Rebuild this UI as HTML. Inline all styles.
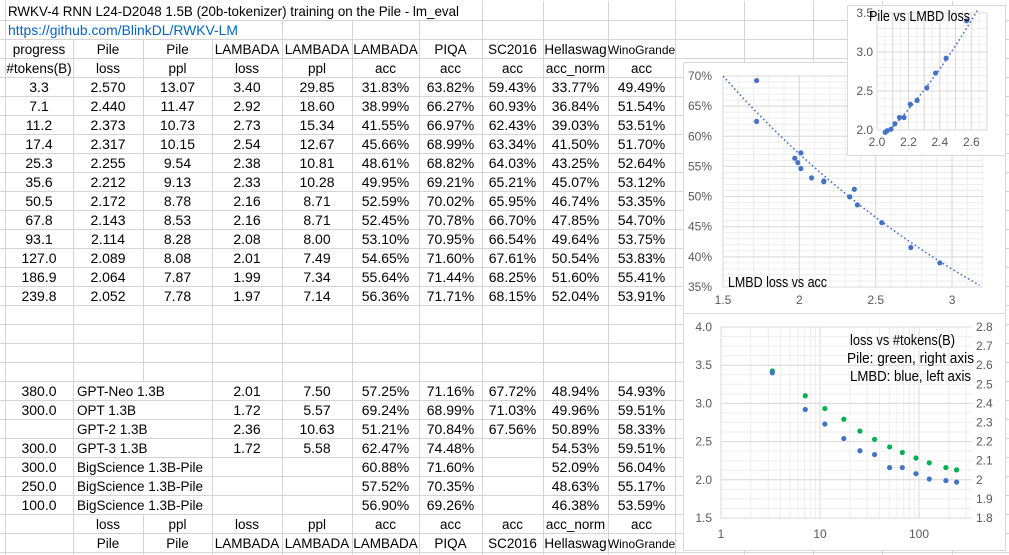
<!DOCTYPE html>
<html><head><meta charset="utf-8"><style>
html,body{margin:0;padding:0;background:#fff;}
svg{display:block;}
</style></head><body>
<svg id="s" width="1009" height="555" xmlns="http://www.w3.org/2000/svg" font-family="Liberation Sans, sans-serif"></svg>
<script>
const S=document.getElementById('s');let h='';
const cols=[5,73,143,212,282,352,419,482,543,608,675,744,813,882,952,1020];
const rowTop=k=>k==1?1:20+(k-2)*19;
const G='#d4d4d4';
for(let k=2;k<=31;k++){const y=rowTop(k)+0.5;h+=`<line x1="0" x2="1009" y1="${y}" y2="${y}" stroke="${G}"/>`;}
function hidden(k,x){
 if(k==1) return x>5&&x<482;
 if(k==2) return x>5&&x<282;
 if(k>=21&&k<=27) return x==143;
 return false;}
for(let k=1;k<=30;k++){for(const x of cols){if(hidden(k,x))continue;h+=`<line x1="${x+.5}" x2="${x+.5}" y1="${rowTop(k)}" y2="${rowTop(k+1)}" stroke="${G}"/>`;}}
function txt(x,y,s,o={}){h+=`<text x="${x}" y="${y}" font-size="${o.fs||14}" fill="${o.c||'#000'}" text-anchor="${o.a||'middle'}"${o.ls?` textLength="${o.ls}" lengthAdjust="spacingAndGlyphs"`:''}>${s}</text>`;}
txt(8,16,'RWKV-4 RNN L24-D2048 1.5B (20b-tokenizer) training on the Pile - lm_eval',{a:'start',fs:14,ls:451});
txt(8,35,'https://github.com/BlinkDL/RWKV-LM',{a:'start',fs:14,c:'#0563C1',ls:230});
const cx=i=>(cols[i]+cols[i+1])/2;
function row(k,arr,fs){arr.forEach((s,i)=>{if(s==='')return;let f=fs||14;if(s=='WinoGrande'){f=12;}txt(cx(i),rowTop(k)+15,s,{fs:f});});}
row(3,['progress','Pile','Pile','LAMBADA','LAMBADA','LAMBADA','PIQA','SC2016','Hellaswag','WinoGrande'],13.5);
row(4,['#tokens(B)','loss','ppl','loss','ppl','acc','acc','acc','acc_norm','acc'],13.5);
const D=[
['3.3','2.570','13.07','3.40','29.85','31.83%','63.82%','59.43%','33.77%','49.49%'],
['7.1','2.440','11.47','2.92','18.60','38.99%','66.27%','60.93%','36.84%','51.54%'],
['11.2','2.373','10.73','2.73','15.34','41.55%','66.97%','62.43%','39.03%','53.51%'],
['17.4','2.317','10.15','2.54','12.67','45.66%','68.99%','63.34%','41.50%','51.70%'],
['25.3','2.255','9.54','2.38','10.81','48.61%','68.82%','64.03%','43.25%','52.64%'],
['35.6','2.212','9.13','2.33','10.28','49.95%','69.21%','65.21%','45.07%','53.12%'],
['50.5','2.172','8.78','2.16','8.71','52.59%','70.02%','65.95%','46.74%','53.35%'],
['67.8','2.143','8.53','2.16','8.71','52.45%','70.78%','66.70%','47.85%','54.70%'],
['93.1','2.114','8.28','2.08','8.00','53.10%','70.95%','66.54%','49.64%','53.75%'],
['127.0','2.089','8.08','2.01','7.49','54.65%','71.60%','67.61%','50.54%','53.83%'],
['186.9','2.064','7.87','1.99','7.34','55.64%','71.44%','68.25%','51.60%','55.41%'],
['239.8','2.052','7.78','1.97','7.14','56.36%','71.71%','68.15%','52.04%','53.91%']];
D.forEach((r,i)=>row(5+i,r));
const M=[
['380.0','GPT-Neo 1.3B','2.01','7.50','57.25%','71.16%','67.72%','48.94%','54.93%'],
['300.0','OPT 1.3B','1.72','5.57','69.24%','68.99%','71.03%','49.96%','59.51%'],
['','GPT-2 1.3B','2.36','10.63','51.21%','70.84%','67.56%','50.89%','58.33%'],
['300.0','GPT-3 1.3B','1.72','5.58','62.47%','74.48%','','54.53%','59.51%'],
['300.0','BigScience 1.3B-Pile','','','60.88%','71.60%','','52.09%','56.04%'],
['250.0','BigScience 1.3B-Pile','','','57.52%','70.35%','','48.63%','55.17%'],
['100.0','BigScience 1.3B-Pile','','','56.90%','69.26%','','46.38%','53.59%']];
M.forEach((r,i)=>{const k=21+i;if(r[0])txt(cx(0),rowTop(k)+15,r[0]);txt(77,rowTop(k)+15,r[1],{a:'start',fs:13.5});
 r.slice(2).forEach((s,j)=>{if(s)txt(cx(3+j),rowTop(k)+15,s);});});
row(28,['','loss','ppl','loss','ppl','acc','acc','acc','acc_norm','acc'],13.5);
row(29,['','Pile','Pile','LAMBADA','LAMBADA','LAMBADA','PIQA','SC2016','Hellaswag','WinoGrande'],13.5);

const GL='#d9d9d9',GM='#eeeeee',LB='#595959',B='#4472C4',GR='#00B050';
function dot(x,y,c){h+=`<circle cx="${x}" cy="${y}" r="2.6" fill="${c}"/>`;}
h+=`<rect x="683.5" y="62.5" width="322" height="252" fill="#fff" stroke="${GL}"/>`;
{const X=v=>723+(v-1.5)*152.7,Y=v=>76+(70-v)/5*30.14;
 for(let v=1.5;v<=3.21;v+=0.1){h+=`<line x1="${X(v)}" x2="${X(v)}" y1="76" y2="287" stroke="${GM}"/>`;}
 for(let v=35;v<=70;v+=1){h+=`<line x1="723" x2="983" y1="${Y(v)}" y2="${Y(v)}" stroke="${GM}"/>`;}
 for(let v=1.5;v<=3.01;v+=0.5){h+=`<line x1="${X(v)}" x2="${X(v)}" y1="76" y2="287" stroke="${GL}"/>`;txt(X(v),304,String(+v.toFixed(1)),{fs:12,c:LB});}
 for(let v=35;v<=70;v+=5){h+=`<line x1="723" x2="983" y1="${Y(v)}" y2="${Y(v)}" stroke="${GL}"/>`;txt(712,Y(v)+4,v+'%',{fs:12,c:LB,a:'end'});}
 let p='';for(let v=1.5;v<=3.2;v+=0.02){const a=70*Math.pow(0.5,(v-1.5)/1.7);p+=`${X(v)},${Y(a)} `;}
 h+=`<polyline points="${p}" fill="none" stroke="${B}" stroke-width="1.6" stroke-dasharray="1.6 2.6"/>`;
 [[2.92,38.99],[2.73,41.55],[2.54,45.66],[2.38,48.61],[2.33,49.95],[2.16,52.59],[2.16,52.45],[2.08,53.10],[2.01,54.65],[1.99,55.64],[1.97,56.36],[2.01,57.25],[1.72,69.24],[2.36,51.21],[1.72,62.47]].forEach(q=>dot(X(q[0]),Y(q[1]),B));
 txt(728,287,'LMBD loss vs acc',{a:'start',fs:14.5,ls:99});
}
h+=`<rect x="847.5" y="5.5" width="158" height="150" fill="#fff" stroke="${GL}"/>`;
{const X=v=>877+(v-2.0)/0.7*110,Y=v=>13+(3.5-v)/1.5*117;
 for(let v=2.0;v<=2.71;v+=0.05){h+=`<line x1="${X(v)}" x2="${X(v)}" y1="13" y2="130" stroke="${GM}"/>`;}
 for(let v=2.0;v<=3.51;v+=0.1){h+=`<line x1="877" x2="987" y1="${Y(v)}" y2="${Y(v)}" stroke="${GM}"/>`;}
 for(let v=2.0;v<=2.71;v+=0.1){h+=`<line x1="${X(v)}" x2="${X(v)}" y1="13" y2="130" stroke="${GL}"/>`;}
 for(let v=2.0;v<=2.61;v+=0.2)txt(X(v),146,v.toFixed(1),{fs:12,c:LB});
 for(let v=2.0;v<=3.51;v+=0.5){h+=`<line x1="877" x2="987" y1="${Y(v)}" y2="${Y(v)}" stroke="${GL}"/>`;txt(873,Y(v)+4,v.toFixed(1),{fs:12,c:LB,a:'end'});}
 let p='';for(let v=2.08;v<=2.64;v+=0.01){const l=2.02+(v-2.09)*2.1+ (v-2.09)*(v-2.09)*1.2;p+=`${X(v)},${Y(l)} `;}
 h+=`<polyline points="${p}" fill="none" stroke="${B}" stroke-width="1.6" stroke-dasharray="1.6 2.6"/>`;
 D.forEach(r=>dot(X(+r[1]),Y(+r[3]),B));
 txt(869,21,'Pile vs LMBD loss',{a:'start',fs:14.5,ls:101});
}
h+=`<rect x="683.5" y="313.5" width="322" height="237" fill="#fff" stroke="${GL}"/>`;
{const X=v=>721+Math.log10(v)*99,YL=v=>327+(4.0-v)/2.5*191,YR=v=>327+(2.8-v)*191;
 for(let d=1;d<=100;d*=10)for(let m=1;m<10;m++){const x=X(d*m);if(x>972)break;h+=`<line x1="${x}" x2="${x}" y1="327" y2="518" stroke="${m==1?GL:GM}"/>`;}
 for(let v=1.8;v<=2.81;v+=0.05){h+=`<line x1="721" x2="972" y1="${YR(v)}" y2="${YR(v)}" stroke="${GM}"/>`;}
 for(let v=1.5;v<=4.01;v+=0.5){h+=`<line x1="721" x2="972" y1="${YL(v)}" y2="${YL(v)}" stroke="${GL}"/>`;txt(712,YL(v)+4,v.toFixed(1),{fs:12,c:LB,a:'end'});}
 for(let i=0;i<=10;i++){const v=1.8+i*0.1;txt(976,YR(v)+4,(+v.toFixed(1)).toString(),{fs:12,c:LB,a:'start'});}
 [1,10,100].forEach(v=>txt(X(v),538,String(v),{fs:12,c:LB}));
 D.forEach(r=>{dot(X(+r[0]),YR(+r[1]),GR);dot(X(+r[0]),YL(+r[3]),B);});
 txt(850,345,'loss vs #tokens(B)',{a:'start',fs:14.5,ls:105});
 txt(847,363,'Pile: green, right axis',{a:'start',fs:14.5,ls:127});
 txt(850,381,'LMBD: blue, left axis',{a:'start',fs:14.5,ls:121});
}
S.innerHTML=h;
</script>
</body></html>
